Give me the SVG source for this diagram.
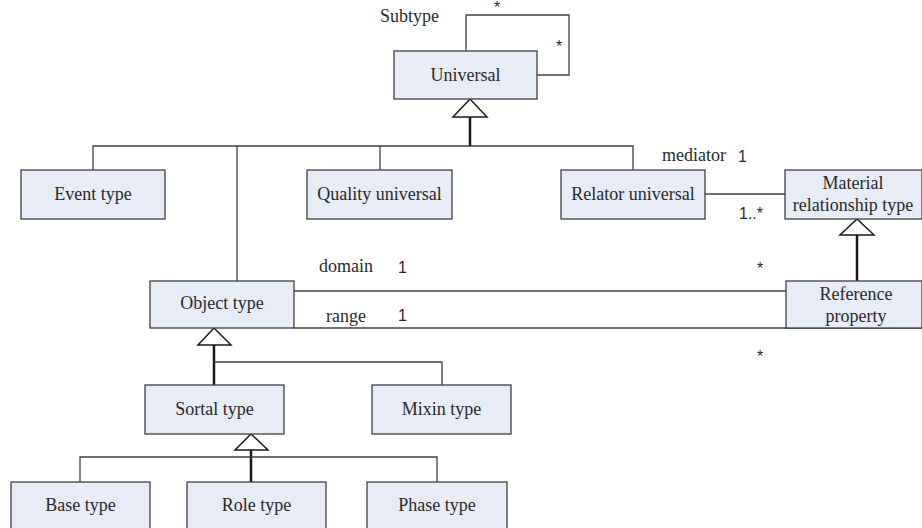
<svg xmlns="http://www.w3.org/2000/svg" width="922" height="528" viewBox="0 0 922 528">
<style>
.box{fill:#E7ECF6;stroke:#404040;stroke-width:1.3}
.t{font-family:"Liberation Serif","DejaVu Serif","Times New Roman",serif;font-size:18px;fill:#2a2a2a;text-anchor:middle}
.l{font-family:"Liberation Serif","DejaVu Serif","Times New Roman",serif;font-size:18px;fill:#2a2a2a}
.n{font-family:"Liberation Sans",Arial,sans-serif;font-size:16px;fill:#2a2a2a}
.ln{fill:none;stroke:#404040;stroke-width:1.3}
.th{fill:none;stroke:#1a1a1a;stroke-width:2.5}
.tri{fill:#fff;stroke:#1a1a1a;stroke-width:1.5}
</style>
<rect width="922" height="528" fill="#fff"/>
<g id="connectors">
<polyline class="ln" points="466,51 466,15 569,15 569,75 537,75"/>
<polyline class="ln" points="93,170 93,146 633,146 633,170"/>
<line class="ln" x1="237" y1="146" x2="237" y2="281"/>
<line class="ln" x1="380" y1="146" x2="380" y2="170"/>
<line class="th" x1="470" y1="117" x2="470" y2="146"/>
<polygon class="tri" points="470,99 453,117 487,117"/>
<line class="ln" x1="705" y1="194" x2="785" y2="194"/>
<line class="th" x1="857" y1="235" x2="857" y2="281"/>
<polygon class="tri" points="857,219 840,235 874,235"/>
<line class="ln" x1="294" y1="291" x2="786" y2="291"/>
<line class="ln" x1="294" y1="328" x2="922" y2="328"/>
<line class="th" x1="214" y1="345" x2="214" y2="385"/>
<polyline class="ln" points="214,362 442,362 442,385"/>
<polygon class="tri" points="214,328 198,345 231,345"/>
<line class="th" x1="251" y1="450" x2="251" y2="482"/>
<polyline class="ln" points="80,482 80,457 437,457 437,482"/>
<polygon class="tri" points="251,434 235,450 268,450"/>
<text class="l" x="380" y="22">Subtype</text>
<text class="n" x="494" y="13">*</text>
<text class="n" x="556" y="52">*</text>
<text class="l" x="662" y="161">mediator</text>
<text class="n" x="738" y="162">1</text>
<text class="n" x="739" y="219">1..*</text>
<text class="n" x="757" y="274">*</text>
<text class="l" x="319" y="272">domain</text>
<text class="n" x="398" y="273">1</text>
<text class="l" x="326" y="322">range</text>
<text class="n" x="398" y="321">1</text>
<text class="n" x="757" y="362">*</text>
</g>
<g id="universal"><rect class="box" x="394" y="51" width="143" height="48"/><text class="t" x="465.5" y="81">Universal</text></g>
<g id="event-type"><rect class="box" x="21" y="170" width="144" height="49"/><text class="t" x="93" y="200">Event type</text></g>
<g id="quality-universal"><rect class="box" x="307" y="170" width="145" height="49"/><text class="t" x="379.5" y="200">Quality universal</text></g>
<g id="relator-universal"><rect class="box" x="561" y="170" width="144" height="49"/><text class="t" x="633" y="200">Relator universal</text></g>
<g id="material-relationship-type"><rect class="box" x="785" y="170" width="137" height="49"/><text class="t" x="853" y="189">Material</text><text class="t" x="853" y="211">relationship type</text></g>
<g id="object-type"><rect class="box" x="150" y="281" width="144" height="47"/><text class="t" x="222" y="309">Object type</text></g>
<g id="reference-property"><rect class="box" x="786" y="281" width="136" height="47"/><text class="t" x="856" y="300">Reference</text><text class="t" x="856" y="322">property</text></g>
<g id="sortal-type"><rect class="box" x="145" y="385" width="139" height="49"/><text class="t" x="214.5" y="415">Sortal type</text></g>
<g id="mixin-type"><rect class="box" x="372" y="385" width="139" height="49"/><text class="t" x="441.5" y="415">Mixin type</text></g>
<g id="base-type"><rect class="box" x="11" y="482" width="139" height="60"/><text class="t" x="80.5" y="511">Base type</text></g>
<g id="role-type"><rect class="box" x="187" y="482" width="139" height="60"/><text class="t" x="256.5" y="511">Role type</text></g>
<g id="phase-type"><rect class="box" x="367" y="482" width="140" height="60"/><text class="t" x="437" y="511">Phase type</text></g>
</svg>
